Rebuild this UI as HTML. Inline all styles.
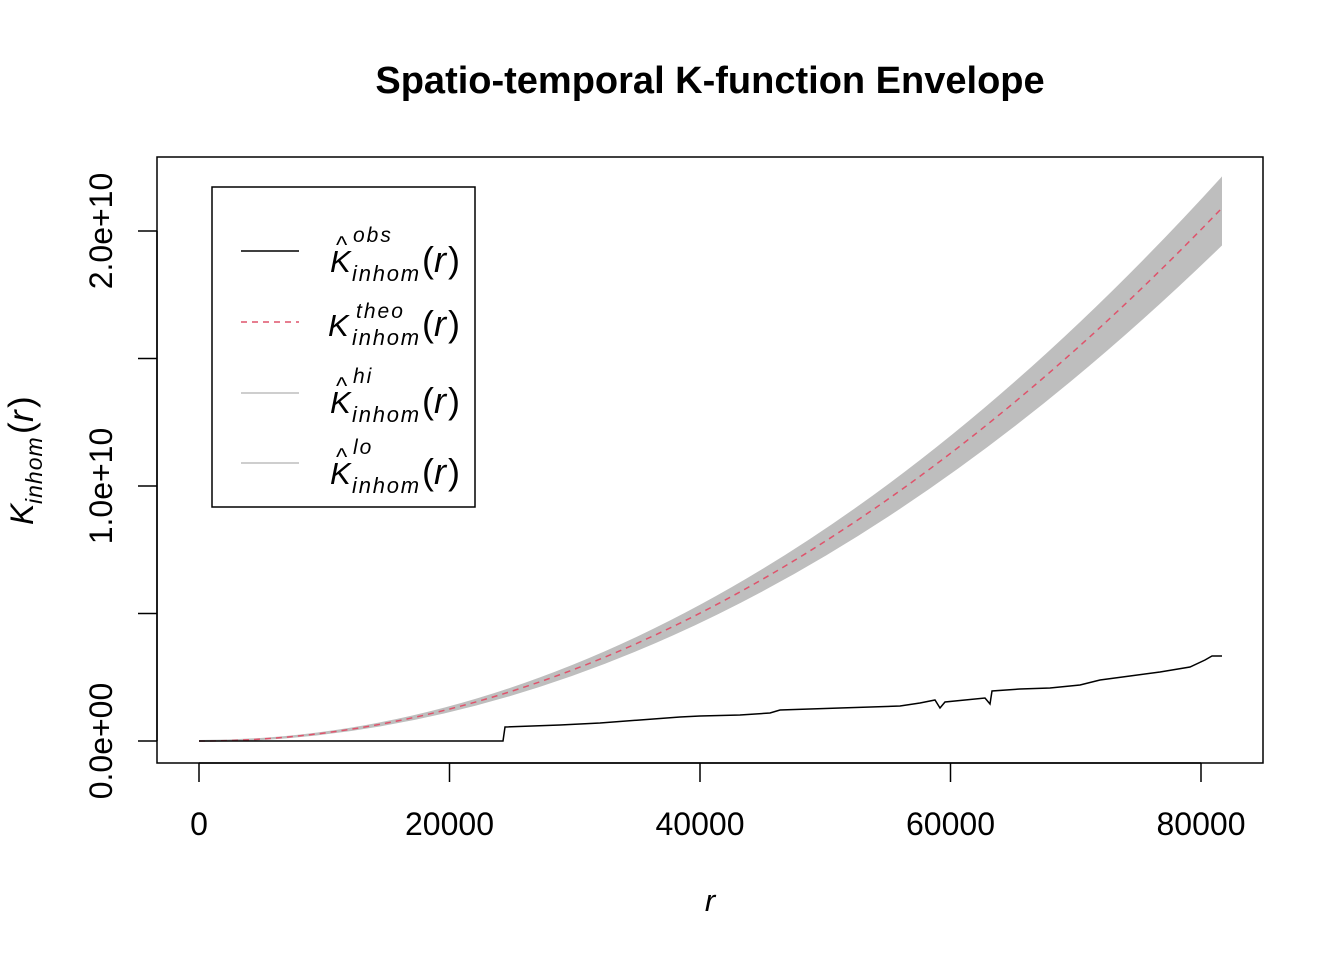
<!DOCTYPE html>
<html><head><meta charset="utf-8"><style>body{margin:0;background:#fff}svg{display:block}text{font-family:"Liberation Sans",sans-serif}</style></head>
<body>
<svg width="1344" height="960" xmlns="http://www.w3.org/2000/svg">
<rect width="1344" height="960" fill="#fff"/>
<text x="710" y="93" font-size="38" font-weight="bold" text-anchor="middle">Spatio-temporal K-function Envelope</text>
<path d="M199,741 Q710,741 1221,179 L1221,245 Q710,741 199,741 Z" fill="#bebebe" stroke="#bebebe" stroke-width="2"/>
<path d="M199,741 Q710,741 1221,209" fill="none" stroke="#df536b" stroke-width="1.5" stroke-dasharray="6,5"/>
<path d="M199,741 L503,741 L505,727 L560,725 L600,723 L640,720 L680,717 L700,716 L740,715 L770,713 L780,710 L840,708 L900,706 L920,703 L935,700 L940,708 L945,702 L985,698 L990,704 L992,691 L1020,689 L1050,688 L1080,685 L1100,680 L1130,676 L1160,672 L1190,667 L1205,660 L1212,656 L1222,656" fill="none" stroke="#000" stroke-width="1.5"/>
<rect x="157" y="157" width="1106" height="606" fill="none" stroke="#000" stroke-width="1.5"/>
<g stroke="#000" stroke-width="1.5">
<line x1="199" y1="763" x2="1201" y2="763"/>
<line x1="199" y1="763" x2="199" y2="782"/><line x1="449.5" y1="763" x2="449.5" y2="782"/><line x1="700" y1="763" x2="700" y2="782"/><line x1="950.5" y1="763" x2="950.5" y2="782"/><line x1="1201" y1="763" x2="1201" y2="782"/>
<line x1="157" y1="231" x2="157" y2="741"/>
<line x1="138" y1="741" x2="157" y2="741"/><line x1="138" y1="613.5" x2="157" y2="613.5"/><line x1="138" y1="486" x2="157" y2="486"/><line x1="138" y1="358.5" x2="157" y2="358.5"/><line x1="138" y1="231" x2="157" y2="231"/>
</g>
<g font-size="32" text-anchor="middle">
<text x="199" y="835">0</text><text x="449.5" y="835">20000</text><text x="700" y="835">40000</text><text x="950.5" y="835">60000</text><text x="1201" y="835">80000</text>
<text transform="translate(112,741) rotate(-90)">0.0e+00</text>
<text transform="translate(112,486) rotate(-90)">1.0e+10</text>
<text transform="translate(112,231) rotate(-90)">2.0e+10</text>
</g>
<text x="710" y="911" font-size="31" font-style="italic" text-anchor="middle">r</text>
<g transform="translate(33,460) rotate(-90)" font-style="italic">
<text x="-65" y="0" font-size="32">K</text><text x="-44" y="9" font-size="23" letter-spacing="1">inhom</text><text x="26" y="0" font-size="35" font-family="Liberation Serif" font-style="normal">(</text><text x="38" y="0" font-size="35" font-family="Liberation Serif">r</text><text x="52" y="0" font-size="35" font-family="Liberation Serif" font-style="normal">)</text>
</g>
<rect x="212" y="187" width="263" height="320" fill="none" stroke="#000" stroke-width="1.5"/>
<line x1="241" y1="251" x2="299" y2="251" stroke="#000" stroke-width="1.5"/>
<line x1="241" y1="322" x2="299" y2="322" stroke="#df536b" stroke-width="1.5" stroke-dasharray="6,5"/>
<line x1="241" y1="393" x2="299" y2="393" stroke="#bebebe" stroke-width="1.5"/>
<line x1="241" y1="463" x2="299" y2="463" stroke="#bebebe" stroke-width="1.5"/>
<g font-style="italic">
<text x="330" y="272" font-size="31">K</text><text x="336" y="253" font-size="24" font-style="normal">^</text><text x="353" y="242" font-size="21" letter-spacing="2">obs</text><text x="352" y="281" font-size="22" letter-spacing="1.8">inhom</text>
<text x="422" y="272" font-size="36" font-family="Liberation Serif" font-style="normal">(</text><text x="434" y="272" font-size="36" font-family="Liberation Serif">r</text><text x="448" y="272" font-size="36" font-family="Liberation Serif" font-style="normal">)</text>

<text x="328" y="336" font-size="31">K</text><text x="356" y="318" font-size="21" letter-spacing="2">theo</text><text x="352" y="345" font-size="22" letter-spacing="1.8">inhom</text>
<text x="422" y="336" font-size="36" font-family="Liberation Serif" font-style="normal">(</text><text x="434" y="336" font-size="36" font-family="Liberation Serif">r</text><text x="448" y="336" font-size="36" font-family="Liberation Serif" font-style="normal">)</text>

<text x="330" y="413" font-size="31">K</text><text x="336" y="394" font-size="24" font-style="normal">^</text><text x="353" y="383" font-size="21" letter-spacing="2">hi</text><text x="352" y="422" font-size="22" letter-spacing="1.8">inhom</text>
<text x="422" y="413" font-size="36" font-family="Liberation Serif" font-style="normal">(</text><text x="434" y="413" font-size="36" font-family="Liberation Serif">r</text><text x="448" y="413" font-size="36" font-family="Liberation Serif" font-style="normal">)</text>

<text x="330" y="484" font-size="31">K</text><text x="336" y="465" font-size="24" font-style="normal">^</text><text x="353" y="454" font-size="21" letter-spacing="2">lo</text><text x="352" y="493" font-size="22" letter-spacing="1.8">inhom</text>
<text x="422" y="484" font-size="36" font-family="Liberation Serif" font-style="normal">(</text><text x="434" y="484" font-size="36" font-family="Liberation Serif">r</text><text x="448" y="484" font-size="36" font-family="Liberation Serif" font-style="normal">)</text>
</g>
</svg>
</body></html>
